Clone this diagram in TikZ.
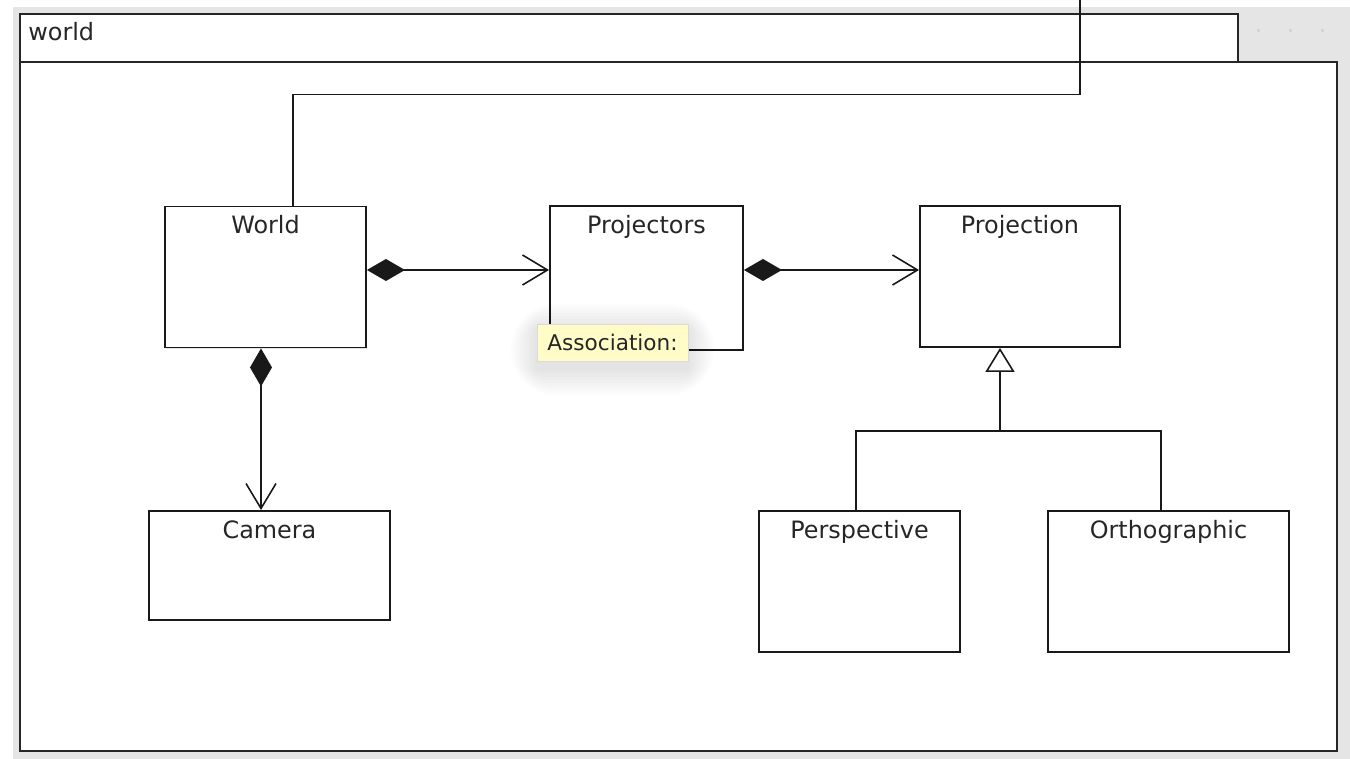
\documentclass[tikz,border=0pt]{standalone}
\usepackage{fontspec}
\setmainfont{DejaVu Sans}
\usetikzlibrary{arrows.meta,shadows,positioning}

\begin{document}
\begin{tikzpicture}[x=0.02cm,y=-0.02cm,
		frm/.style={draw=black!85,line width=1.2pt,fill=white,
					drop shadow={opacity=0.25,shadow xshift=0.8pt,shadow yshift=-0.8pt}},
		cls/.style={draw=black!90,line width=1.1pt,fill=white,inner sep=0pt,
					minimum width=4.02cm,minimum height=2.82cm,
					drop shadow={opacity=0.2,shadow xshift=0.8pt,shadow yshift=-0.8pt}},
		ttl/.style={anchor=base,yshift=-0.56cm,text=black!85,
					font=\fontsize{13.6}{16}\selectfont},
		line/.style={draw=black!90,line width=0.9pt},
		comp/.style={line,{Diamond[length=0.76cm,width=0.44cm]}-{Straight Barb[length=0.5cm,width=0.6cm]}},
		gen/.style={line,-{Triangle[open,fill=white,length=0.48cm,width=0.58cm]}},
		tip/.style={draw=black!15,fill=yellow!22,text=black!85,minimum width=3.02cm,
					minimum height=0.74cm,inner sep=0pt,font=\fontsize{12.3}{14}\selectfont}]

		\useasboundingbox (0,0) rectangle (1350,759);
		\fill[black!10] (13,7) rectangle (1350,759);
		\foreach \x in {1258,1290,1322}
			\fill[black!17] (\x-1.5,29.5) rectangle (\x+1.5,32.5);
		\path[frm] (20,14) rectangle (1238,62);
		\path[frm] (20,62) rectangle (1337,751);
		\node[anchor=base west,inner sep=0pt,text=black!85,
			  font=\fontsize{13.6}{16}\selectfont] (pkg) at (28,41) {world};

		\node[cls,label={[ttl]north:World}] (w) at (265.5,277) {};
		\node[cls,minimum width=3.86cm,minimum height=2.88cm,
			  label={[ttl]north:Projectors}] (pj) at (646.5,278) {};
		\node[cls,minimum width=4cm,label={[ttl]north:Projection}] (prj) at (1020,276.5) {};
		\node[cls,minimum width=4.82cm,minimum height=2.18cm,
			  label={[ttl]north:Camera}] (cam) at (269.5,565.5) {};
		\node[cls,label={[ttl]north:Perspective}] (pers) at (859.5,581.5) {};
		\node[cls,minimum width=4.82cm,label={[ttl]north:Orthographic}] (orth) at (1168.5,581.5) {};

		\coordinate (a) at ([yshift=0.14cm]w.east);
		\coordinate (b) at ([yshift=0.16cm]pj.east);
		\coordinate (c) at ([xshift=-0.09cm]w.south);
		\coordinate (j) at (1000,431);
		\coordinate (top) at (1080,0);

		\draw[comp] (a)--(a -| pj.west);
		\draw[comp] (b)--(b -| prj.west);
		\draw[comp] (c)--(c |- cam.north);
		\draw[gen] (j)--(j |- prj.south);
		\draw[line] ([xshift=-0.07cm]pers.north) |- (j) -| ([xshift=-0.15cm]orth.north);
		\draw[line] ([xshift=0.55cm]w.north)--++(0,-111) -| (top);

		\foreach \r in {2,5,...,26}
			\fill[black,opacity=0.01,rounded corners=\r pt]
				(537-\r,330-\r) rectangle (688+\r,369+\r);
		\node[tip] (tt) at (612.5,342.5) {Association:};
	\end{tikzpicture}
\end{document}
